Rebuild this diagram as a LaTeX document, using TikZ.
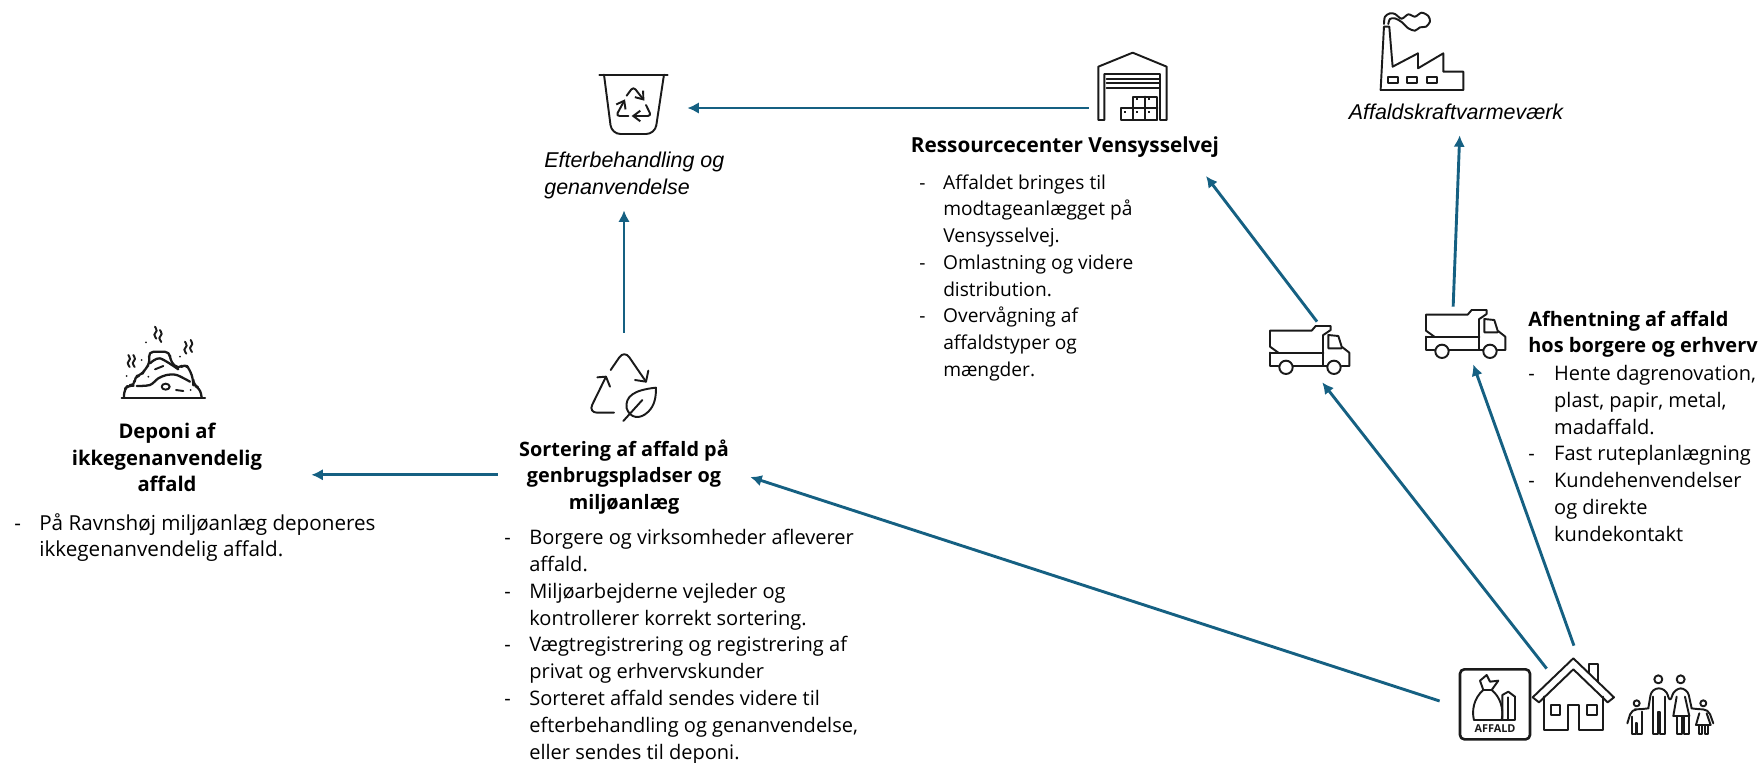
\documentclass[tikz,border=0pt]{standalone}
\usepackage{fontspec}
\usetikzlibrary{arrows.meta}
\setmainfont{Open Sans}
\newfontfamily\captionfont{Liberation Sans}
\definecolor{flowblue}{HTML}{156082}
\definecolor{inkgray}{HTML}{1A1A1A}
\newcommand{\dashitem}[1][14.2pt]{\makebox[#1][l]{-}}
\newcommand{\textsize}[1]{\fontsize{#1}{15.25}\selectfont}
\tikzset{
    flow/.style={draw=flowblue, line width=1.65pt, -{Latex[length=6.5pt,width=6.5pt]}},
    iconbox/.style 2 args={minimum width=#1*0.02cm, minimum height=#2*0.02cm, inner sep=0pt},
    icon/.style={draw=inkgray, line width=1.1pt, line join=round, line cap=round},
    barb/.style={icon, -{Straight Barb[length=4pt,width=6pt]}},
    body/.style={inner sep=0pt, align=left, font=\textsize{#1}, anchor=north west},
    heading/.style={inner sep=0pt, align=center, font=\textsize{#1}\bfseries},
    caption/.style={inner sep=0pt, align=left, font=\captionfont\textsize{12.2}\itshape}
}
\begin{document}
\begin{tikzpicture}[x=0.02cm, y=-0.02cm]
    \useasboundingbox (0,0) rectangle (1762,762);

    \node[iconbox={126}{204}] (bin) at (624,108) {};
    \node[iconbox={86}{90}] (warehouse) at (1132,108) {};
    \node[iconbox={70}{90}] (sorticon) at (624,378) {};
    \node[iconbox={80}{60}] (truckleft) at (1310,352) {};
    \node[iconbox={80}{57}] (truckright) at (1466,335.5) {};
    \node[iconbox={52}{108}] (house) at (1573,700) {};
    \node[iconbox={100}{70}] (bags) at (1490,701) {};
    \coordinate (centerentry) at (1206,176);

    \node[caption, anchor=west] (bincaption) at (544,175.5) {Efterbehandling og\\genanvendelse};
    \node[caption, minimum height=46*0.02cm] (factorycaption) at (1456,112) {Affaldskraftvarmeværk};

    \node[heading=11.5, minimum width=288*0.02cm] (deponititle) at (167,457.5) {Deponi af\\ikkegenanvendelig\\affald};
    \node[heading=11.3, minimum width=252*0.02cm] (sorttitle) at (624,477) {Sortering af affald på\\genbrugspladser og\\miljøanlæg};
    \node[heading=11.8] (centertitle) at (1065,147) {Ressourcecenter Vensysselvej};
    \node[heading=11.35, align=left, anchor=north west] (pickuptitle) at (1528,310.5) {Afhentning af affald\\hos borgere og erhverv};

    \node[body=11.75] (depositext) at (14,513) {\dashitem På Ravnshøj miljøanlæg deponeres\\\hspace*{14.2pt}ikkegenanvendelig affald.};
    \node[body=11.4] (sorttext) at (504,529) {\dashitem Borgere og virksomheder afleverer\\\hspace*{14.2pt}affald.\\\dashitem Miljøarbejderne vejleder og\\\hspace*{14.2pt}kontrollerer korrekt sortering.\\\dashitem Vægtregistrering og registrering af\\\hspace*{14.2pt}privat og erhvervskunder\\\dashitem Sorteret affald sendes videre til\\\hspace*{14.2pt}efterbehandling og genanvendelse,\\\hspace*{14.2pt}eller sendes til deponi.};
    \node[body=10.9] (centertext) at (919,174) {\dashitem[13.6pt]Affaldet bringes til\\\hspace*{13.6pt}modtageanlægget på\\\hspace*{13.6pt}Vensysselvej.\\\dashitem[13.6pt]Omlastning og videre\\\hspace*{13.6pt}distribution.\\\dashitem[13.6pt]Overvågning af\\\hspace*{13.6pt}affaldstyper og\\\hspace*{13.6pt}mængder.};
    \node[body=11.4] (pickuptext) at (1528,365) {\dashitem[14.7pt]Hente dagrenovation,\\\hspace*{14.7pt}plast, papir, metal,\\\hspace*{14.7pt}madaffald.\\\dashitem[14.7pt]Fast ruteplanlægning\\\dashitem[14.7pt]Kundehenvendelser\\\hspace*{14.7pt}og direkte\\\hspace*{14.7pt}kundekontakt};

    \draw[flow] (warehouse.west) -- (bin.east);
    \draw[flow] (sorticon.north) -- (bin.south);
    \draw[flow] (sorttitle.179.1) -- (deponititle.east |- sorttitle.179.1);
    \draw[flow] (bags.west) -- (sorttitle.0.9);
    \draw[flow] (house.130) -- (truckleft.-68);
    \draw[flow] (house.89) -- (truckright.-76);
    \draw[flow] (truckleft.77) -- (centerentry);
    \draw[flow] (truckright.114.5) -- (factorycaption.-81);

    \begin{scope}[shift={(1060,0)}, scale=0.3333]
        \draw[icon] (962,270) -- (972,80) -- (988,80) -- (998,200) -- (1074,160) -- (1074,205) -- (1150,160) -- (1150,215) -- (1210,215) -- (1210,270) -- cycle;
        \draw[icon] (985,230) rectangle (1015,248);
        \draw[icon] (1042,230) rectangle (1072,248);
        \draw[icon] (1100,230) rectangle (1130,248);
        \draw[icon] plot[smooth] coordinates {(972,72) (975,50) (990,40) (1005,42) (1025,56) (1045,43) (1065,50) (1085,38) (1105,48) (1110,65) (1098,80) (1080,82) (1065,92) (1045,85) (1025,66) (1005,55) (990,57) (985,72)};
        \draw[icon] (115,360) -- (115,200) -- (218,158) -- (320,200) -- (320,360) -- (300,360) -- (300,222) -- (133,222) -- (133,360) -- cycle;
        \draw[icon] (140,237) -- (298,237);
        \draw[icon] (140,250) -- (298,250);
        \draw[icon] (140,263) -- (298,263);
        \draw[icon] (184,325) rectangle (292,360);
        \draw[icon] (220,290) rectangle (292,360);
        \draw[icon] (256,290) -- (256,360);
        \draw[icon] (220,325) -- (292,325);
        \foreach \dotx/\doty in {232/298,268/298,196/336,232/336,268/336}
            \fill[inkgray] (\dotx-3,\doty-3) rectangle (\dotx+3,\doty+3);
    \end{scope}

    \begin{scope}[shift={(560,40)}, scale=0.3333]
        \draw[icon] (118,104) -- (323,104);
        \draw[icon, rounded corners=5pt] (132,104) -- (155,282) -- (285,282) -- (312,104);
        \draw[barb, rounded corners=2pt] (200,167) -- (220,140) -- (253,182);
        \draw[barb, rounded corners=2pt] (258,195) -- (274,228) -- (215,228);
        \draw[barb, rounded corners=2pt] (205,228) -- (168,228) -- (195,178);
    \end{scope}

    \begin{scope}[shift={(100,310)}, scale=0.3333, draw=inkgray]
        \draw[icon, line width=1.3pt] (65,265) -- (315,265);
        \draw[icon, line width=1.3pt, rounded corners=3pt] (72,262) -- (72,240) -- (85,225) -- (105,228) -- (102,200) -- (125,195) -- (135,178) -- (150,160) -- (145,125) -- (210,125) -- (210,152) -- (235,178) -- (255,160) -- (270,180) -- (280,210) -- (280,225) -- (300,235) -- (305,262);
        \draw[icon, line width=1.3pt] plot[smooth] coordinates {(110,228) (150,225) (175,205) (200,195) (230,195) (270,215)};
        \draw[icon, line width=1.3pt] plot[smooth] coordinates {(150,160) (180,145) (235,178)};
        \draw[icon] (197,230) ellipse (12 and 9);
        \draw[icon] (228,240) -- (250,243);
        \draw[icon] (165,178) -- (190,168);
        \foreach \wavx/\wavy in {165/50,180/60,255/95,272/90,85/135,100/135}
            \draw[icon] plot[smooth] coordinates {(\wavx,\wavy) (\wavx+5,\wavy+12) (\wavx-2,\wavy+24) (\wavx+4,\wavy+36)};
        \foreach \dotx/\doty in {138/97,125/150,80/198,145/200,240/140,272/240}
            \fill[inkgray] (\dotx,\doty) circle (3);
    \end{scope}

    \begin{scope}[shift={(570,340)}, scale=0.3333]
        \draw[icon, rounded corners=5pt] (122,90) -- (163,30) -- (228,125);
        \draw[icon] (195,120) -- (228,125) -- (235,92);
        \draw[icon, rounded corners=5pt] (132,218) -- (55,218) -- (108,110);
        \draw[icon] (82,112) -- (108,110) -- (120,140);
        \draw[icon] (258,143) .. controls (190,150) and (165,170) .. (170,205) .. controls (180,235) and (210,240) .. (235,215) .. controls (255,195) and (258,170) .. (258,143) -- cycle;
        \draw[icon] (160,243) -- (217,180);
    \end{scope}

    \foreach \truckx/\trucky in {0/0,468/-48} {
        \begin{scope}[shift={(1260,300)}, scale=0.3333, shift={(\truckx,\trucky)}]
            \draw[icon] (55,158) -- (30,140) -- (30,92) -- (155,92) -- (167,78) -- (212,78) -- (212,90) -- (190,105);
            \draw[icon] (30,158) -- (190,158);
            \draw[icon] (55,198) -- (30,198) -- (30,158);
            \draw[icon] (100,198) -- (200,198);
            \draw[icon] (190,105) -- (190,198);
            \draw[icon] (78,202) circle (20);
            \draw[icon] (222,202) circle (20);
            \draw[icon] (245,198) -- (268,198) -- (268,158) -- (245,140) -- (235,108) -- (205,105) -- (205,145) -- (245,145);
        \end{scope}
    }

    \begin{scope}[shift={(1440,640)}, scale=0.3333]
        \draw[icon, line width=1.5pt, rounded corners=2.5pt] (60,88) rectangle (270,298);
        \draw[icon] (130,150) .. controls (100,175) and (95,215) .. (102,240) -- (185,240) .. controls (192,205) and (180,170) .. (155,150) -- cycle;
        \draw[icon] (130,150) -- (120,122) -- (140,105) -- (150,125) -- (175,122) -- (155,150);
        \draw[icon] (187,240) -- (187,165) -- (205,155) -- (225,170) -- (225,240) -- cycle;
        \draw[icon] (205,172) -- (205,238);
        \node[inner sep=0pt, font=\fontsize{6.2}{7}\selectfont\bfseries, text=inkgray] (bagtag) at (165,265) {AFFALD};

        \draw[icon] (400,55) -- (278,172) -- (297,187) -- (400,88) -- (503,187) -- (522,172) -- cycle;
        \draw[icon] (447,100) -- (447,72) -- (473,72) -- (473,125);
        \draw[icon] (312,170) -- (312,270) -- (385,270) -- (385,195) -- (418,195) -- (418,270) -- (490,270) -- (490,170);
        \draw[icon] (332,195) rectangle (360,225);
        \draw[icon] (440,195) rectangle (470,225);

        \draw[icon] (655,118) circle (12);
        \draw[icon] (722,118) circle (12);
        \draw[icon] (590,190) circle (9);
        \draw[icon] (790,190) circle (9);
        \draw[icon, rounded corners=4pt] (625,205) -- (635,145) -- (678,145) -- (690,190) -- (703,145) -- (742,145) -- (755,205);
        \draw[icon] (640,170) -- (640,282) -- (655,282) -- (655,215) -- (660,215) -- (660,282) -- (675,282) -- (675,170);
        \draw[icon] (710,170) -- (700,228) -- (748,228) -- (735,170);
        \draw[icon] (710,228) -- (710,282) -- (725,282) -- (725,228);
        \draw[icon] (733,228) -- (733,282) -- (748,282) -- (748,228);
        \draw[icon, rounded corners=3pt] (562,250) -- (575,208) -- (600,208) -- (625,205);
        \draw[icon] (575,230) -- (575,282) -- (587,282) -- (587,250) -- (592,250) -- (592,282) -- (605,282) -- (605,215);
        \draw[icon, rounded corners=3pt] (755,205) -- (775,208) -- (805,208) -- (820,250);
        \draw[icon] (778,220) -- (768,255) -- (812,255) -- (800,220);
        \draw[icon] (777,255) -- (777,282) -- (787,282) -- (787,255);
        \draw[icon] (795,255) -- (795,282) -- (805,282) -- (805,255);
    \end{scope}
\end{tikzpicture}
\end{document}
